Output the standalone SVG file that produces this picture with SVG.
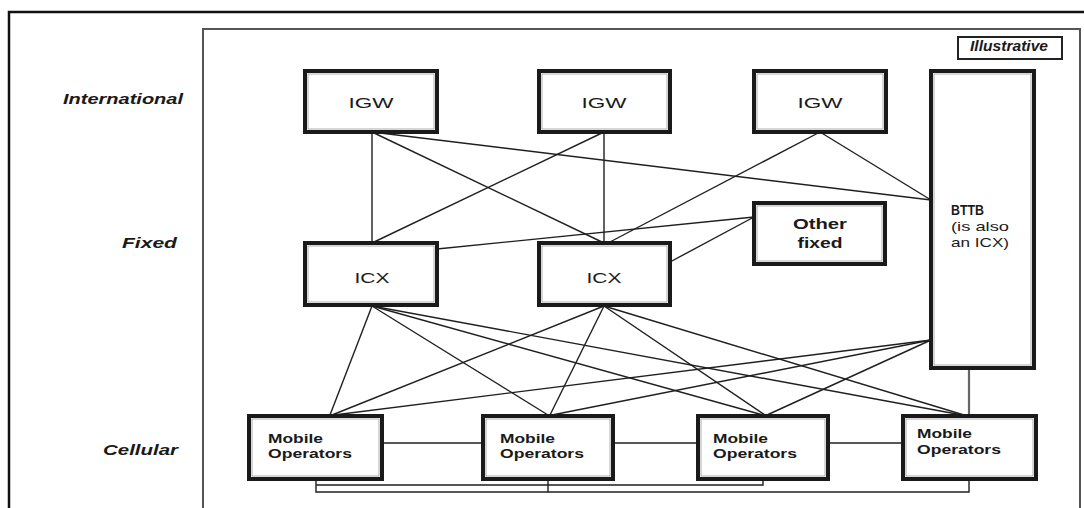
<svg xmlns="http://www.w3.org/2000/svg" width="1084" height="508" viewBox="0 0 1084 508">
<style>
.box{fill:#fff;stroke:#1a1a1a;stroke-width:4}
.inner{fill:none;stroke:#9a9a9a;stroke-width:0.8}
.t{font-family:"Liberation Sans",Arial,sans-serif;fill:#1a1a1a}
.lbl{font-family:"Liberation Sans",Arial,sans-serif;font-style:italic;font-weight:bold;fill:#1a1a1a;font-size:14px}
.c{stroke:#1f1f1f;stroke-width:1.4;fill:none}
</style>
<rect width="1084" height="508" fill="#fff"/>
<g id="frame">
<path d="M9,508 V12 H1084" fill="none" stroke="#111" stroke-width="2.5"/>
<path d="M203,508 V29 H1080 V508" fill="none" stroke="#555" stroke-width="2"/>
<rect x="958" y="37" width="104" height="22" fill="#fff" stroke="#222" stroke-width="2"/>
<text class="lbl" x="1009" y="51" text-anchor="middle" font-size="10" textLength="78" lengthAdjust="spacingAndGlyphs">Illustrative</text>
</g>
<g id="row-labels">
<text class="lbl" x="63" y="104" textLength="120" lengthAdjust="spacingAndGlyphs">International</text>
<text class="lbl" x="122" y="248" textLength="55" lengthAdjust="spacingAndGlyphs">Fixed</text>
<text class="lbl" x="103" y="455" textLength="75" lengthAdjust="spacingAndGlyphs">Cellular</text>
</g>
<g id="connectors">
<line class="c" x1="372" y1="132" x2="372" y2="243"/>
<line class="c" x1="372" y1="132" x2="604" y2="243"/>
<line class="c" x1="372" y1="132" x2="931" y2="200"/>
<line class="c" x1="604" y1="132" x2="604" y2="243"/>
<line class="c" x1="604" y1="132" x2="372" y2="243"/>
<line class="c" x1="820" y1="132" x2="608" y2="243"/>
<line class="c" x1="820" y1="132" x2="931" y2="200"/>
<line class="c" x1="754" y1="217" x2="437" y2="249"/>
<line class="c" x1="754" y1="217" x2="670" y2="262"/>
<line class="c" x1="372" y1="306" x2="330" y2="415"/>
<line class="c" x1="372" y1="306" x2="548" y2="415"/>
<line class="c" x1="372" y1="306" x2="763" y2="415"/>
<line class="c" x1="372" y1="306" x2="962" y2="415"/>
<line class="c" x1="604" y1="306" x2="332" y2="415"/>
<line class="c" x1="604" y1="306" x2="550" y2="415"/>
<line class="c" x1="604" y1="306" x2="765" y2="415"/>
<line class="c" x1="604" y1="306" x2="964" y2="415"/>
<line class="c" x1="931" y1="340" x2="334" y2="415"/>
<line class="c" x1="931" y1="340" x2="552" y2="415"/>
<line class="c" x1="931" y1="340" x2="767" y2="415"/>
<line x1="969" y1="368" x2="969" y2="416" stroke="#666" stroke-width="2.2"/>
<line class="c" x1="382" y1="443" x2="483" y2="443"/>
<line class="c" x1="613" y1="443" x2="698" y2="443"/>
<line class="c" x1="828" y1="443" x2="903" y2="443"/>
<path class="c" d="M316,479 V492 H969 V479 M316,485 H763 V479 M548,479 V492"/>
</g>
<g id="igw1"><rect class="box" x="305" y="71" width="132" height="61"/><rect class="inner" x="308" y="74" width="126" height="55"/><text class="t" x="371" y="108" text-anchor="middle" font-size="15" textLength="45" lengthAdjust="spacingAndGlyphs">IGW</text></g>
<g id="igw2"><rect class="box" x="539" y="71" width="131" height="61"/><rect class="inner" x="542" y="74" width="125" height="55"/><text class="t" x="604" y="108" text-anchor="middle" font-size="15" textLength="45" lengthAdjust="spacingAndGlyphs">IGW</text></g>
<g id="igw3"><rect class="box" x="754" y="71" width="132" height="61"/><rect class="inner" x="757" y="74" width="126" height="55"/><text class="t" x="820" y="108" text-anchor="middle" font-size="15" textLength="45" lengthAdjust="spacingAndGlyphs">IGW</text></g>
<g id="bttb"><rect class="box" x="931" y="71" width="103" height="297"/><rect class="inner" x="934" y="74" width="97" height="291"/>
<text class="t" x="951" y="215" font-size="15" font-weight="bold" textLength="33" lengthAdjust="spacingAndGlyphs">BTTB</text>
<text class="t" x="951" y="231" font-size="13" textLength="58" lengthAdjust="spacingAndGlyphs">(is also</text>
<text class="t" x="951" y="247" font-size="13" textLength="58" lengthAdjust="spacingAndGlyphs">an ICX)</text></g>
<g id="other-fixed"><rect class="box" x="754" y="203" width="131" height="61"/><rect class="inner" x="757" y="206" width="125" height="55"/>
<text class="t" x="820" y="229" text-anchor="middle" font-size="15" font-weight="bold" textLength="54" lengthAdjust="spacingAndGlyphs">Other</text>
<text class="t" x="820" y="248" text-anchor="middle" font-size="15" font-weight="bold" textLength="45" lengthAdjust="spacingAndGlyphs">fixed</text></g>
<g id="icx1"><rect class="box" x="305" y="243" width="132" height="62"/><rect class="inner" x="308" y="246" width="126" height="56"/><text class="t" x="372" y="283" text-anchor="middle" font-size="15" textLength="35" lengthAdjust="spacingAndGlyphs">ICX</text></g>
<g id="icx2"><rect class="box" x="539" y="243" width="131" height="62"/><rect class="inner" x="542" y="246" width="125" height="56"/><text class="t" x="604" y="283" text-anchor="middle" font-size="15" textLength="35" lengthAdjust="spacingAndGlyphs">ICX</text></g>
<g id="mo1"><rect class="box" x="249" y="416" width="133" height="63"/><rect class="inner" x="252" y="419" width="127" height="57"/>
<text class="t" x="268" y="443" font-size="13" font-weight="bold" textLength="55" lengthAdjust="spacingAndGlyphs">Mobile</text>
<text class="t" x="268" y="458" font-size="13" font-weight="bold" textLength="84" lengthAdjust="spacingAndGlyphs">Operators</text></g>
<g id="mo2"><rect class="box" x="483" y="416" width="130" height="63"/><rect class="inner" x="486" y="419" width="124" height="57"/>
<text class="t" x="500" y="443" font-size="13" font-weight="bold" textLength="55" lengthAdjust="spacingAndGlyphs">Mobile</text>
<text class="t" x="500" y="458" font-size="13" font-weight="bold" textLength="84" lengthAdjust="spacingAndGlyphs">Operators</text></g>
<g id="mo3"><rect class="box" x="698" y="416" width="130" height="63"/><rect class="inner" x="701" y="419" width="124" height="57"/>
<text class="t" x="713" y="443" font-size="13" font-weight="bold" textLength="55" lengthAdjust="spacingAndGlyphs">Mobile</text>
<text class="t" x="713" y="458" font-size="13" font-weight="bold" textLength="84" lengthAdjust="spacingAndGlyphs">Operators</text></g>
<g id="mo4"><rect class="box" x="903" y="416" width="133" height="63"/><rect class="inner" x="906" y="419" width="127" height="57"/>
<text class="t" x="917" y="438" font-size="13" font-weight="bold" textLength="55" lengthAdjust="spacingAndGlyphs">Mobile</text>
<text class="t" x="917" y="454" font-size="13" font-weight="bold" textLength="84" lengthAdjust="spacingAndGlyphs">Operators</text></g>
</svg>
